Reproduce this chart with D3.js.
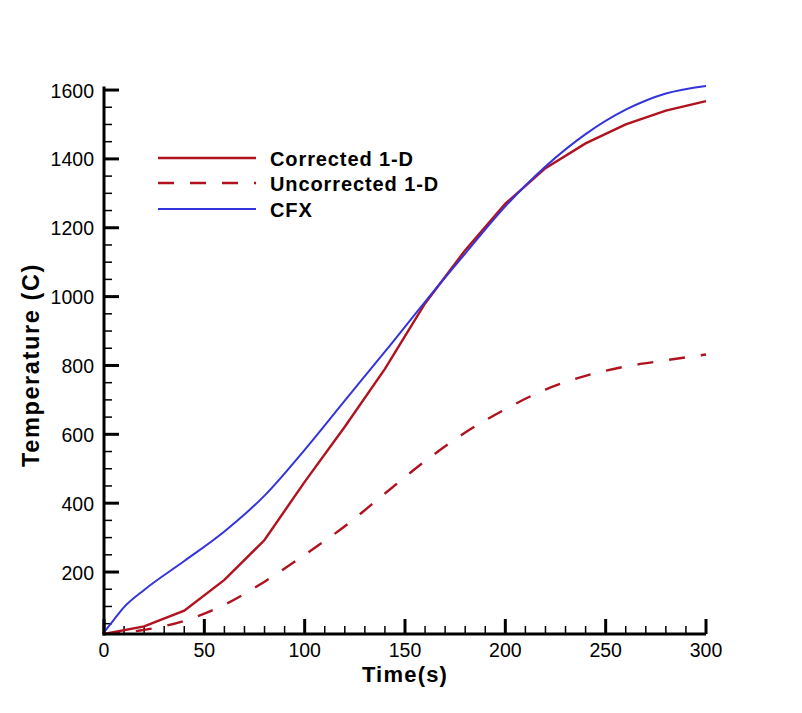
<!DOCTYPE html>
<html><head><meta charset="utf-8">
<script src="https://cdn.jsdelivr.net/npm/d3@7"></script>
<style>body{margin:0;background:#fff}svg{display:block}</style>
</head><body>
<svg id="c" width="802" height="713"></svg>
<script>
const timeCorr = [0,20,40,60,80,100,120,140,160,180,200,220,240,260,280,300];
const corrected = [20,42,88,177,293,462,622,790,980,1135,1270,1373,1445,1500,1540,1568];
const timeUnc = [0,20,40,60,80,100,120,140,160,180,200,220,240,260,280,300];
const uncorrected = [20,32,58,105,172,250,333,428,522,605,673,730,770,797,815,832];
const timeCfx = [0,5,10,20,40,60,80,100,120,140,160,180,200,220,240,260,280,300];
const cfx = [25,62,98,148,232,318,422,555,698,840,985,1125,1262,1378,1472,1543,1590,1612];
const xTicks = [0,50,100,150,200,250,300];
const yTicks = [200,400,600,800,1000,1200,1400,1600];
const seriesNames = ["Corrected 1-D","Uncorrected 1-D","CFX"];

const svg = d3.select("#c");
const font = "'Liberation Sans', Arial, sans-serif";
const x = d3.scaleLinear().domain([0,300]).range([104,706]);
const y = d3.scaleLinear().domain([20,1610]).range([634,86.6]);
const red = "#b0121f", blue = "#3434dc";

// minor ticks
const xMinor = d3.range(0,301,10).filter(v=>v%50!==0);
const yMinor = d3.range(50,1610,50).filter(v=>v%200!==0);
const g = svg.append("g");
g.selectAll(".xm").data(xMinor).join("line")
  .attr("x1",d=>x(d)).attr("x2",d=>x(d)).attr("y1",634).attr("y2",626)
  .attr("stroke","#000").attr("stroke-width",1.5);
g.selectAll(".xM").data(xTicks).join("line")
  .attr("x1",d=>x(d)).attr("x2",d=>x(d)).attr("y1",634).attr("y2",619)
  .attr("stroke","#000").attr("stroke-width",3);
g.selectAll(".ym").data(yMinor).join("line")
  .attr("x1",104).attr("x2",112).attr("y1",d=>y(d)).attr("y2",d=>y(d))
  .attr("stroke","#000").attr("stroke-width",1.5);
g.selectAll(".yM").data(yTicks).join("line")
  .attr("x1",104).attr("x2",119).attr("y1",d=>y(d)).attr("y2",d=>y(d))
  .attr("stroke","#000").attr("stroke-width",3);

// data lines
const lineLin = d3.line().x(d=>x(d[0])).y(d=>y(d[1]));
const lineSmooth = d3.line().x(d=>x(d[0])).y(d=>y(d[1])).curve(d3.curveMonotoneX);
svg.append("path").datum(timeUnc.map((t,i)=>[t,uncorrected[i]]))
  .attr("d",lineSmooth).attr("fill","none").attr("stroke",red).attr("stroke-width",2.4)
  .attr("stroke-dasharray","16,16");
svg.append("path").datum(timeCorr.map((t,i)=>[t,corrected[i]]))
  .attr("d",lineLin).attr("fill","none").attr("stroke",red).attr("stroke-width",2.4);
svg.append("path").datum(timeCfx.map((t,i)=>[t,cfx[i]]))
  .attr("d",lineSmooth).attr("fill","none").attr("stroke",blue).attr("stroke-width",2);

// axes lines
svg.append("line").attr("x1",104).attr("x2",104).attr("y1",y(1610)).attr("y2",635.5)
  .attr("stroke","#000").attr("stroke-width",3);
svg.append("line").attr("x1",102.5).attr("x2",706).attr("y1",634).attr("y2",634)
  .attr("stroke","#000").attr("stroke-width",3);

// tick labels
svg.selectAll(".xl").data(xTicks).join("text")
  .attr("x",d=>x(d)).attr("y",657).attr("text-anchor","middle")
  .attr("font-family",font).attr("font-size",19.5).text(d=>d);
svg.selectAll(".yl").data(yTicks).join("text")
  .attr("x",94).attr("y",d=>y(d)+7.5).attr("text-anchor","end")
  .attr("font-family",font).attr("font-size",19.5).text(d=>d);

// axis titles
svg.append("text").attr("x",405).attr("y",682).attr("text-anchor","middle")
  .attr("font-family",font).attr("font-size",22).attr("font-weight","bold")
  .attr("letter-spacing",1.2).text("Time(s)");
svg.append("text").attr("transform","translate(39,365) rotate(-90)").attr("text-anchor","middle")
  .attr("font-family",font).attr("font-size",23.5).attr("font-weight","bold")
  .attr("letter-spacing",1.6).text("Temperature (C)");

// legend
const legY = [158,183,209];
const legStyles = [{c:red,d:null,w:2.4},{c:red,d:"16,16",w:2.4},{c:blue,d:null,w:2}];
seriesNames.forEach((name,i)=>{
  svg.append("line").attr("x1",158).attr("x2",256).attr("y1",legY[i]).attr("y2",legY[i])
    .attr("stroke",legStyles[i].c).attr("stroke-width",legStyles[i].w)
    .attr("stroke-dasharray",legStyles[i].d);
  svg.append("text").attr("x",270).attr("y",legY[i]+8)
    .attr("font-family",font).attr("font-size",20).attr("font-weight","bold")
    .attr("letter-spacing",0.9).text(name);
});
</script>
</body></html>
